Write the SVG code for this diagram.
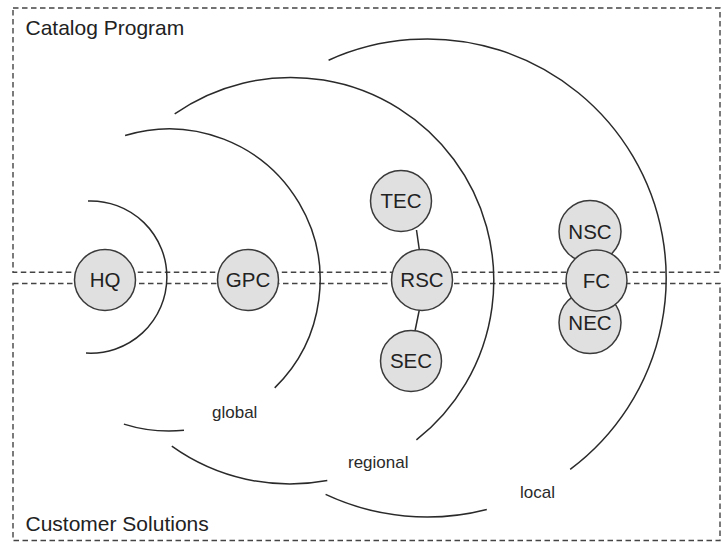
<svg xmlns="http://www.w3.org/2000/svg" width="721" height="542" viewBox="0 0 721 542">
<style>
.box{fill:none;stroke:#444;stroke-width:1.4;stroke-dasharray:5.5 3.5}
.arc{fill:none;stroke:#2a2a2a;stroke-width:1.5}
.edge{stroke:#2a2a2a;stroke-width:1.5;fill:none}
.node circle{fill:#e0e0e0;stroke:#3a3a3a;stroke-width:1.5}
.node text{font-family:"Liberation Sans",Arial,sans-serif;font-size:20.5px;fill:#222;text-anchor:middle}
.title{font-family:"Liberation Sans",Arial,sans-serif;font-size:21px;fill:#222}
.lbl{font-family:"Liberation Sans",Arial,sans-serif;font-size:17px;fill:#2a2a2a}
</style>
<rect width="721" height="542" fill="#fff"/>
<g id="catalog-program">
<rect class="box" x="13" y="8" width="707" height="264.3"/>
<text class="title" x="25.5" y="35">Catalog Program</text>
</g>
<g id="customer-solutions">
<rect class="box" x="13" y="283.5" width="707" height="257"/>
<text class="title" x="25.5" y="531">Customer Solutions</text>
</g>
<g id="rings">
<path class="arc" d="M 88 201 A 76.1 76.1 0 1 1 86 353"/>
<path class="arc" d="M 125.1 135.5 A 151 151 0 0 1 274.7 387.9"/>
<path class="arc" d="M 184 430.3 A 151 151 0 0 1 123.9 424.1"/>
<path class="arc" d="M 174.7 113.9 A 203 203 0 0 1 416.4 439.9"/>
<path class="arc" d="M 327.3 480.5 A 203 203 0 0 1 171.8 446.1"/>
<path class="arc" d="M 328.6 60.2 A 239 239 0 0 1 570.2 469.4"/>
<path class="arc" d="M 486.8 509.4 A 239 239 0 0 1 325.6 494.4"/>
<text class="lbl" x="212" y="418">global</text>
<text class="lbl" x="348" y="467.5">regional</text>
<text class="lbl" x="520" y="497.5">local</text>
</g>
<g id="connectors">
<line class="edge" x1="416.5" y1="230" x2="419.5" y2="251"/>
<line class="edge" x1="419.5" y1="309" x2="415" y2="331"/>
</g>
<g id="HQ" class="node"><circle cx="105" cy="280" r="30.5"/><text x="105" y="287.3">HQ</text></g>
<g id="GPC" class="node"><circle cx="248" cy="280" r="30.5"/><text x="248" y="287.3">GPC</text></g>
<g id="TEC" class="node"><circle cx="401" cy="201" r="30.5"/><text x="401" y="208.3">TEC</text></g>
<g id="RSC" class="node"><circle cx="422" cy="280" r="30.5"/><text x="422" y="287.3">RSC</text></g>
<g id="SEC" class="node"><circle cx="411" cy="361" r="30.5"/><text x="411" y="368.3">SEC</text></g>
<g id="NSC" class="node"><circle cx="590" cy="231.5" r="31"/><text x="590" y="238.8">NSC</text></g>
<g id="NEC" class="node"><circle cx="590" cy="322.5" r="31"/><text x="590" y="329.8">NEC</text></g>
<g id="FC" class="node"><circle cx="596.5" cy="280.5" r="30.5"/><text x="596.5" y="287.8">FC</text></g>
</svg>
